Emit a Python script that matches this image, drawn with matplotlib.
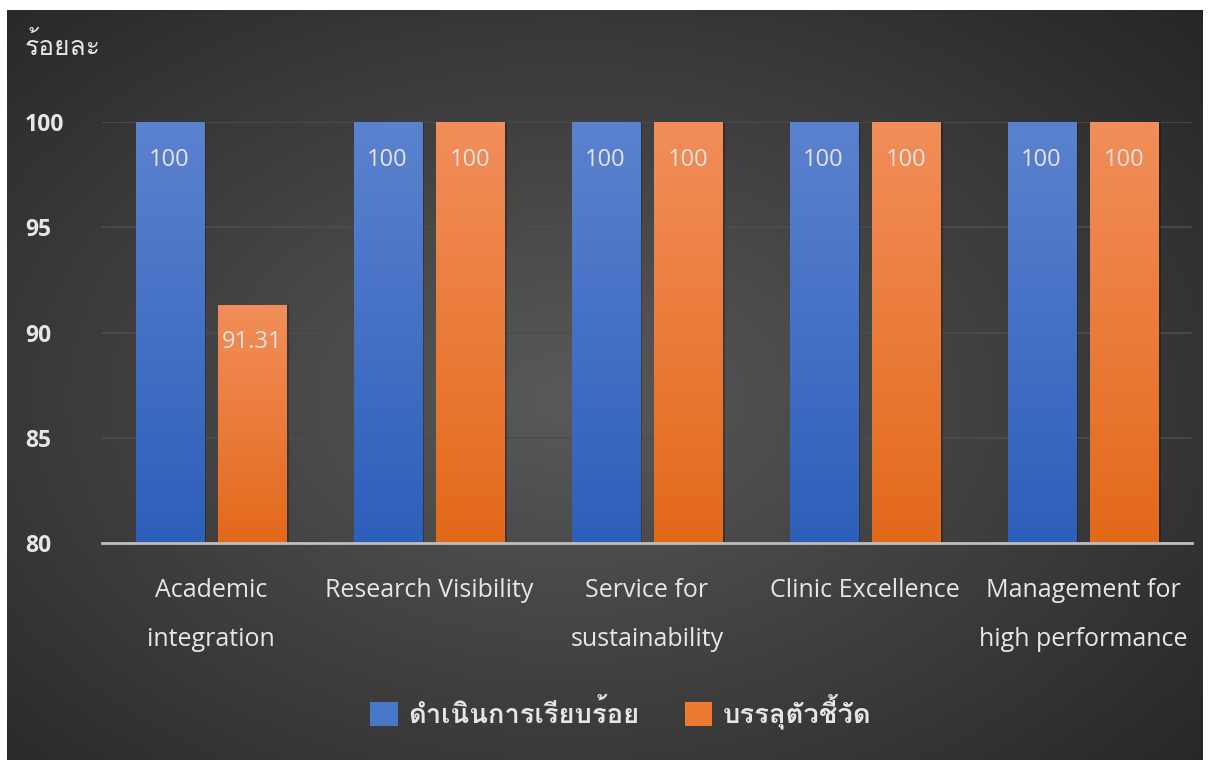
import numpy as np
import matplotlib
matplotlib.use("Agg")
import matplotlib.pyplot as plt
from matplotlib import font_manager
from matplotlib.ft2font import FT2Font
from matplotlib.patches import Patch
from matplotlib.colors import LinearSegmentedColormap

categories = ["Academic\nintegration", "Research Visibility", "Service for\nsustainability",
              "Clinic Excellence", "Management for\nhigh performance"]
done = [100, 100, 100, 100, 100]
achieved = [91.31, 100, 100, 100, 100]
series_names = ["ดำเนินการเรียบร้อย", "บรรลุตัวชี้วัด"]
yticks = [80, 85, 90, 95, 100]
ylabel = "ร้อยละ"


def find_thai_font():
    # pick any installed font that actually has Thai glyphs
    for f in font_manager.fontManager.ttflist:
        try:
            if 0x0E01 in FT2Font(f.fname).get_charmap():
                return f.name
        except Exception:
            pass
    return None


thai = find_thai_font()
fams = ["Open Sans"] + ([thai] if thai else []) + ["DejaVu Sans"]
plt.rcParams["font.family"] = fams

W, H = 1212, 760
fig = plt.figure(figsize=(W / 100, H / 100), dpi=100, facecolor="white")

# dark radial background
bg = fig.add_axes([7 / W, 0, 1196 / W, 750 / H])
yy, xx = np.mgrid[0:1:300j, 0:1:480j]
r = np.sqrt(((xx - 0.47) / 0.75) ** 2 + ((yy - 0.52) / 0.8) ** 2)
bg_cmap = LinearSegmentedColormap.from_list("bg", ["#595959", "#262626"])
bg.imshow(np.clip(r, 0, 1), cmap=bg_cmap, aspect="auto", extent=(0, 1, 0, 1))
bg.set_axis_off()

ax = fig.add_axes([102 / W, (H - 543) / H, 1090 / W, 421 / H])
ax.set_facecolor("none")

x = np.arange(len(categories))
bw = 0.312
off = 0.19
blue_cmap = LinearSegmentedColormap.from_list("b", ["#2d5fba", "#5b82cf"])
orange_cmap = LinearSegmentedColormap.from_list("o", ["#e3691a", "#f28e5a"])
grad = np.linspace(0, 1, 256).reshape(-1, 1)

for vals, dx, cm, solid in [(done, -off, blue_cmap, "#4472c4"), (achieved, off, orange_cmap, "#ed7d31")]:
    # soft shadow to the right of each bar
    ax.bar(x + dx + 0.012, np.array(vals) - 80, bw, bottom=80, color="black", alpha=0.25, zorder=2)
    bars = ax.bar(x + dx, np.array(vals) - 80, bw, bottom=80, color=solid, zorder=3)
    for b, v in zip(bars, vals):
        x0 = b.get_x()
        im = ax.imshow(grad, cmap=cm, origin="lower", aspect="auto",
                       extent=(x0, x0 + bw, 80, v), zorder=4)
        im.set_clip_path(b)
        ax.annotate(f"{v:g}", xy=(b.get_x() + bw / 2, v), xytext=(0, -27),
                    textcoords="offset points", ha="center", va="center",
                    color="#e4e4e4", fontsize=17, zorder=6)

ax.set_xlim(-0.5, len(categories) - 0.5)
ax.set_ylim(80, 100)
ax.set_yticks(yticks)
ax.set_yticklabels([str(t) for t in yticks], ha="left", color="#e6e6e6",
                   fontsize=16.5, fontweight="bold")
ax.tick_params(axis="y", length=0, pad=55.4)
ax.set_xticks([])
ax.grid(axis="y", color="#4d4d4d", linewidth=1.2, zorder=0)
for s in ["top", "right", "left"]:
    ax.spines[s].set_visible(False)
ax.spines["bottom"].set_color("#bfbfbf")
ax.spines["bottom"].set_linewidth(2)
ax.spines["bottom"].set_zorder(7)

for i, c in enumerate(categories):
    ax.annotate(c, xy=(i, 0), xycoords=("data", "axes fraction"), xytext=(0, -25),
                textcoords="offset points", ha="center", va="top", multialignment="center",
                linespacing=2.3, color="#e6e6e6", fontsize=18)

fig.text(25 / W, 1 - 47 / H, ylabel, ha="left", va="center", color="#e6e6e6", fontsize=19)

handles = [Patch(facecolor="#4a78c9"), Patch(facecolor="#ec7a30")]
leg = fig.legend(handles, series_names, loc="center", bbox_to_anchor=(621 / W, 48 / H), ncol=2,
                 frameon=False, fontsize=19.7, handlelength=1.0, handleheight=1.0,
                 handletextpad=0.4, columnspacing=1.65)
for t in leg.get_texts():
    t.set_color("#e6e6e6")
    t.set_fontweight("bold")

fig.savefig("out.png", dpi=100, facecolor="white")
